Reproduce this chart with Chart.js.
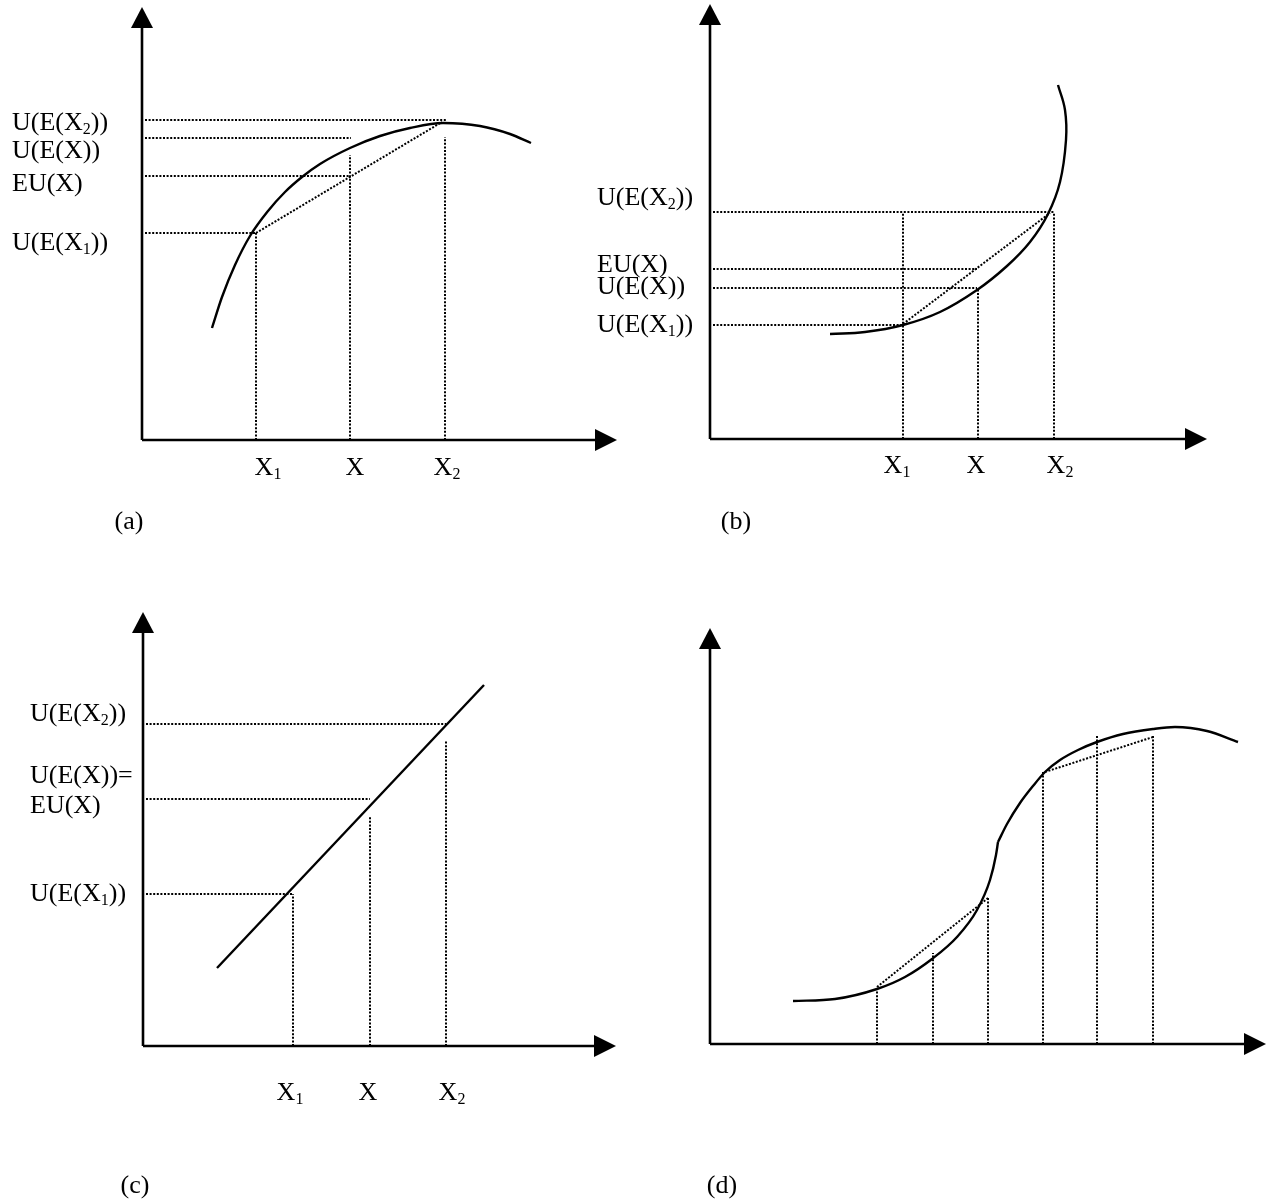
<!DOCTYPE html>
<html>
<head>
<meta charset="utf-8">
<script src="https://cdn.jsdelivr.net/npm/chart.js@4.4.1/dist/chart.umd.min.js"></script>
<style>
  html, body { margin: 0; padding: 0; background: #fff; }
  #hoja { position: relative; width: 1269px; height: 1203px; overflow: hidden; background: #fff; }
  #hoja canvas { position: absolute; }
</style>
</head>
<body>
<div id="hoja">
  <canvas id="panelA"></canvas>
  <canvas id="panelB"></canvas>
  <canvas id="panelC"></canvas>
  <canvas id="panelD"></canvas>
</div>
<script>
// Unidades: x = distancia a la derecha del eje vertical, y = altura sobre el eje horizontal

// ---- (a) utilidad cóncava ----
const curvaA = [[70,112],[80,143],[93,175],[108,204],[126,229],[143,248],[160,263],[178,276],[208,292],[238,304],[268,312],[301,317],[338,314],[368,306],[389,297]];
const cuerdaA = [[114,207],[300,318]];
const nivelesA = [320, 302, 264, 207];        // líneas punteadas horizontales
const finNivelesA = [304, 209, 208, 114];
const xsA = [114, 208, 303];                  // líneas punteadas verticales
const topesA = [207, 285, 303];
const etiquetasYA = ['U(E(X_2))', 'U(E(X))', 'EU(X)', 'U(E(X_1))'];
const posYA = [318, 290, 257, 198];
const posXA = [126, 213, 305];

// ---- (b) utilidad convexa ----
const curvaB = [[120,105],[155,107],[193,114],[230,127],[267,149],[297,173],[320,197],[338,225],[350,257],[356,299],[355,329],[348,354]];
const cuerdaB = [[193,115],[340,226]];
const nivelesB = [227, 170, 151, 114];
const finNivelesB = [344, 267, 267, 193];
const xsB = [193, 268, 344];
const topesB = [226, 151, 226];
const etiquetasYB = ['U(E(X_2))', 'EU(X)', 'U(E(X))', 'U(E(X_1))'];
const posYB = [242, 175, 153, 115];
const posXB = [187, 266, 350];

// ---- (c) utilidad lineal ----
const rectaC = [[74,78],[341,361]];
const nivelesC = [322, 247, 152];
const finNivelesC = [303, 227, 150];
const xsC = [150, 227, 303];
const topesC = [152, 229, 305];
const etiquetasYC = ['U(E(X_2))', 'U(E(X))=', 'EU(X)', 'U(E(X_1))'];
const posYC = [333, 271, 241, 153];
const posXC = [147, 225, 309];

// ---- (d) curva en S ----
const curvaBajaD = [[83,43],[125,45],[167,55],[195,67],[222,85],[247,107],[267,134],[280,164],[286,189],[288,202]];
const curvaAltaD = [[288,202],[297,220],[310,241],[323,258],[335,272],[350,284],[368,294],[387,302],[413,310],[443,315],[465,317],[497,313],[528,302]];
const cuerdasD = [[[167,57],[278,146]], [[335,272],[443,307]]];
const xsD = [167, 223, 278, 333, 387, 443];
const topesD = [56, 91, 146, 272, 308, 308];

const etiquetasX = ['X_1', 'X', 'X_2'];

const FUENTE = '"Liberation Serif", "Times New Roman", serif';

// modo: 'recta', 'monotona' (x creciente) o 'libre' (la curva vuelve sobre sí misma)
function linea(puntos, punteada, modo) {
  return {
    data: puntos.map(p => ({ x: p[0], y: p[1] })),
    showLine: true,
    pointRadius: 0,
    borderColor: '#000',
    borderWidth: punteada ? 2 : 2.4,
    borderDash: punteada ? [2, 1.6] : [],
    tension: modo === 'recta' || !modo ? 0 : 0.4,
    cubicInterpolationMode: modo === 'monotona' ? 'monotone' : 'default',
    fill: false
  };
}

function guias(niveles, fines, xs, topes) {
  const ds = [];
  niveles.forEach((n, i) => ds.push(linea([[3, n], [fines[i], n]], true)));
  xs.forEach((x, i) => ds.push(linea([[x, 0], [x, topes[i]]], true)));
  return ds;
}

// texto con subíndices marcados con "_"
function partes(texto) {
  const out = [];
  const re = /_(\w)/g;
  let ultimo = 0, m;
  while ((m = re.exec(texto)) !== null) {
    if (m.index > ultimo) out.push({ t: texto.slice(ultimo, m.index), sub: false });
    out.push({ t: m[1], sub: true });
    ultimo = re.lastIndex;
  }
  if (ultimo < texto.length) out.push({ t: texto.slice(ultimo), sub: false });
  return out;
}

function escribir(ctx, texto, x, y, centrado) {
  const trozos = partes(texto);
  let ancho = 0;
  trozos.forEach(p => {
    ctx.font = (p.sub ? '16px ' : '26px ') + FUENTE;
    p.w = ctx.measureText(p.t).width;
    ancho += p.w;
  });
  let cx = centrado ? x - ancho / 2 : x;
  trozos.forEach(p => {
    ctx.font = (p.sub ? '16px ' : '26px ') + FUENTE;
    ctx.fillText(p.t, cx, y + (p.sub ? 12 : 7.5));
    cx += p.w;
  });
}

const esquema = {
  id: 'esquema',
  afterDraw(chart, args, opts) {
    const ctx = chart.ctx;
    const sx = chart.scales.x, sy = chart.scales.y;
    const x0 = sx.getPixelForValue(0), y0 = sy.getPixelForValue(0);
    const xf = sx.getPixelForValue(sx.max), yf = sy.getPixelForValue(sy.max);
    ctx.save();
    ctx.strokeStyle = '#000';
    ctx.fillStyle = '#000';
    ctx.lineWidth = 2.6;
    ctx.beginPath();
    ctx.moveTo(x0, y0); ctx.lineTo(xf - 12, y0);
    ctx.moveTo(x0, y0); ctx.lineTo(x0, yf + 12);
    ctx.stroke();
    // flechas
    ctx.beginPath();
    ctx.moveTo(xf, y0); ctx.lineTo(xf - 22, y0 - 11); ctx.lineTo(xf - 22, y0 + 11);
    ctx.closePath(); ctx.fill();
    ctx.beginPath();
    ctx.moveTo(x0, yf); ctx.lineTo(x0 - 11, yf + 21); ctx.lineTo(x0 + 11, yf + 21);
    ctx.closePath(); ctx.fill();

    ctx.textBaseline = 'alphabetic';
    ctx.textAlign = 'left';
    (opts.etiquetasY || []).forEach((t, i) => {
      escribir(ctx, t, sx.getPixelForValue(opts.xEtiquetasY), sy.getPixelForValue(opts.posY[i]), false);
    });
    (opts.etiquetasX || []).forEach((t, i) => {
      escribir(ctx, t, sx.getPixelForValue(opts.posX[i]), sy.getPixelForValue(opts.yEtiquetasX), true);
    });
    escribir(ctx, opts.titulo, sx.getPixelForValue(opts.posTitulo[0]), sy.getPixelForValue(opts.posTitulo[1]), true);
    ctx.restore();
  }
};

function crearPanel(id, caja, origen, punta, datasets, extras) {
  const canvas = document.getElementById(id);
  canvas.width = caja[2];
  canvas.height = caja[3];
  canvas.style.left = caja[0] + 'px';
  canvas.style.top = caja[1] + 'px';
  canvas.style.width = caja[2] + 'px';
  canvas.style.height = caja[3] + 'px';
  return new Chart(canvas.getContext('2d'), {
    type: 'scatter',
    data: { datasets: datasets },
    options: {
      responsive: false,
      animation: false,
      devicePixelRatio: 1,
      events: [],
      layout: {
        padding: {
          left: origen[0] - caja[0],
          top: punta[1] - caja[1],
          right: caja[0] + caja[2] - punta[0],
          bottom: caja[1] + caja[3] - origen[1]
        }
      },
      scales: {
        x: { type: 'linear', display: false, min: 0, max: punta[0] - origen[0] },
        y: { type: 'linear', display: false, min: 0, max: origen[1] - punta[1] }
      },
      plugins: {
        legend: { display: false },
        tooltip: { enabled: false },
        esquema: extras
      }
    },
    plugins: [esquema]
  });
}

crearPanel('panelA', [0, 0, 640, 560], [142, 440], [617, 7],
  [linea(curvaA, false, 'monotona'), linea(cuerdaA, true)].concat(guias(nivelesA, finNivelesA, xsA, topesA)),
  { etiquetasY: etiquetasYA, posY: posYA, xEtiquetasY: -130, etiquetasX: etiquetasX, posX: posXA, yEtiquetasX: -27, titulo: '(a)', posTitulo: [-13, -81] });

crearPanel('panelB', [580, 0, 689, 560], [710, 439], [1207, 4],
  [linea(curvaB, false, 'libre'), linea(cuerdaB, true)].concat(guias(nivelesB, finNivelesB, xsB, topesB)),
  { etiquetasY: etiquetasYB, posY: posYB, xEtiquetasY: -113, etiquetasX: etiquetasX, posX: posXB, yEtiquetasX: -26, titulo: '(b)', posTitulo: [26, -82] });

crearPanel('panelC', [0, 575, 640, 628], [143, 1046], [616, 612],
  [linea(rectaC, false, 'recta')].concat(guias(nivelesC, finNivelesC, xsC, topesC)),
  { etiquetasY: etiquetasYC, posY: posYC, xEtiquetasY: -113, etiquetasX: etiquetasX, posX: posXC, yEtiquetasX: -46, titulo: '(c)', posTitulo: [-8, -139] });

crearPanel('panelD', [580, 575, 689, 628], [710, 1044], [1266, 628],
  [linea(curvaBajaD, false, 'monotona'), linea(curvaAltaD, false, 'monotona')]
    .concat(cuerdasD.map(c => linea(c, true)))
    .concat(guias([], [], xsD, topesD)),
  { etiquetasY: [], posY: [], xEtiquetasY: 0, etiquetasX: [], posX: [], yEtiquetasX: 0, titulo: '(d)', posTitulo: [12, -141] });
</script>
</body>
</html>
